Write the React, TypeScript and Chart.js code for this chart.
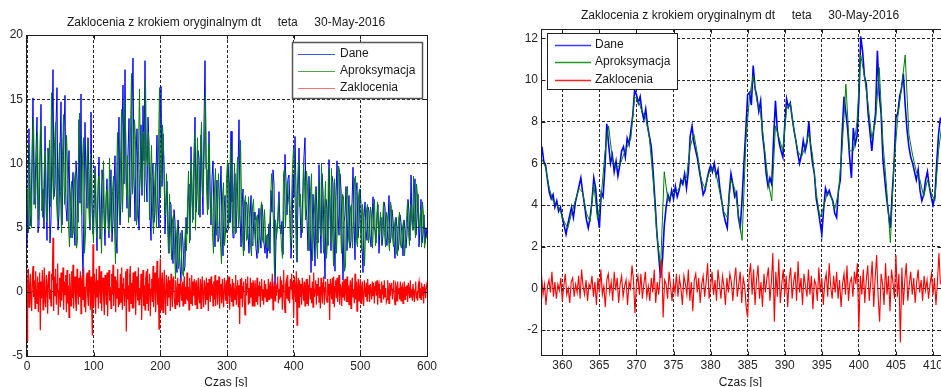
import React, { useEffect, useRef } from 'react';
import { Chart, registerables } from 'chart.js';

Chart.register(...registerables);

const FONT = '"Liberation Sans", Arial, Helvetica, sans-serif';
const TITLE = 'Zaklocenia z krokiem oryginalnym dt     teta     30-May-2016';
const LEGEND_LABELS = ['Dane', 'Aproksymacja', 'Zaklocenia'];
const X_LABEL = 'Czas [s]';
const COLORS = ['#0000ff', '#008000', '#ff0000'];

// ---------- Left plot (whole record 0..600 s) ----------
const L_DANE_T0 = 0;
const L_DANE_DT = 1.5;
const L_DANE = [
  3.5, 8.2, 12.7, 5.1, 6.0, 10.4, 15.1, 6.8, 7.5, 11.0, 13.6, 4.6, 5.2, 9.8, 14.6, 6.3, 8.0, 4.9, 12.9, 7.2,
  4.0, 11.2, 9.5, 3.8, 5.6, 12.1, 17.3, 7.4, 8.2, 13.0, 15.9, 4.8, 6.0, 10.9, 14.8, 5.2, 9.2, 12.4, 15.3, 6.6,
  5.5, 8.1, 11.0, 6.2, 4.2, 7.7, 9.3, 5.0, 3.6, 10.2, 8.8, 5.4, 13.4, 6.9, 15.4, 4.5, 1.2, 7.3, 13.2, 8.5,
  6.5, 12.0, 9.0, 4.8, 14.0, 7.1, 4.5, 6.6, 9.8, 5.7, 3.2, 7.8, 10.5, 4.1, 5.0, 9.5, 8.6, 6.0, 3.6, 7.2,
  8.8, 5.6, 4.2, 7.4, 9.5, 3.9, 5.5, 8.0, 10.6, 4.4, 3.0, 9.8, 13.6, 5.2, 7.0, 12.6, 16.1, 8.4, 17.3, 9.1,
  6.5, 10.8, 13.5, 5.8, 8.0, 14.2, 18.2, 9.0, 5.5, 10.4, 12.7, 6.8, 4.8, 9.6, 13.0, 7.5, 14.5, 10.2, 18.0, 8.8,
  7.0, 13.6, 11.5, 6.0, 4.0, 8.9, 10.0, 5.4, 6.2, 9.4, 12.2, 7.0, 5.0, 11.8, 16.0, 8.2, 12.3, 9.9, 4.5, 6.7,
  8.6, 5.4, 3.0, 7.0, 6.8, 3.6, 2.2, 6.4, 5.5, 2.4, 1.5, 5.6, 4.2, 2.0, 0.8, 4.8, 3.8, 1.6, 2.0, 5.8,
  4.5, 6.9, 8.4, 4.0, 11.3, 7.2, 5.6, 9.6, 13.6, 6.2, 7.5, 11.0, 10.4, 5.8, 12.2, 8.6, 6.0, 13.0, 18.0, 9.6,
  9.5, 6.4, 12.5, 7.8, 5.2, 8.8, 10.2, 5.6, 3.5, 6.8, 8.7, 3.9, 4.2, 7.4, 9.8, 5.0, 2.8, 6.2, 7.5, 4.6,
  5.0, 10.0, 8.5, 5.4, 12.5, 7.0, 4.2, 7.8, 9.2, 4.6, 6.5, 9.4, 13.4, 6.0, 3.5, 6.6, 8.0, 3.2, 5.2, 7.0,
  6.8, 4.6, 3.0, 5.8, 7.5, 3.6, 4.0, 6.2, 5.6, 3.4, 2.6, 5.2, 6.5, 4.2, 3.4, 6.8, 5.8, 3.8, 3.0, 4.4,
  2.6, 3.8, 5.3, 3.0, 7.9, 6.2, 9.5, 8.4, 0.5, 4.0, 4.8, 5.6, 7.8, 5.0, 4.5, 5.5, 2.9, 7.0, 10.7, 8.6,
  6.0, 8.8, 9.1, 6.4, 2.6, 4.5, 9.2, 7.4, 12.1, 8.0, 2.3, 7.5, 11.2, 6.6, 4.2, 5.4, 8.2, 10.6, 12.0, 6.8,
  5.5, 3.2, 9.0, 6.0, 1.5, 4.6, 7.6, 5.0, 2.0, 8.2, 6.2, 3.8, 9.9, 5.6, 3.0, 9.2, 7.8, 4.4, 1.0, 7.2,
  6.5, 3.6, 10.3, 6.8, 3.2, 9.0, 8.5, 4.8, 1.6, 7.4, 10.2, 6.0, 4.4, 9.2, 8.0, 4.6, 0.9, 5.4, 6.0, 8.2,
  3.2, 5.8, 7.5, 3.4, 4.0, 6.8, 9.7, 5.6, 2.5, 7.8, 8.5, 4.2, 5.2, 8.0, 6.8, 3.6, 1.5, 5.8, 7.0, 4.8,
  4.0, 6.6, 6.3, 4.4, 3.5, 5.6, 7.4, 5.0, 4.8, 3.8, 6.0, 6.8, 3.0, 5.2, 5.8, 3.6, 4.4, 7.0, 6.6, 4.2,
  3.6, 5.4, 7.5, 3.8, 4.2, 6.4, 5.6, 4.0, 2.6, 5.8, 5.0, 3.2, 3.8, 6.0, 5.4, 4.4, 2.8, 5.6, 4.9, 3.4,
  4.5, 7.2, 6.2, 4.0, 9.1, 5.6, 4.8, 7.0, 8.8, 4.4, 5.8, 7.6, 3.5, 5.2, 7.2, 3.8, 4.5, 6.0, 3.8, 5.0,
  4.2,
];

const L_APROKS_T0 = 0.75;
const L_APROKS_DT = 1.5;
const L_APROKS = [
  8.0, 4.6, 11.5, 7.0, 5.0, 12.0, 13.5, 8.0, 6.5, 10.0, 12.4, 5.6, 9.0, 13.2, 12.0, 5.8, 7.0, 10.4, 11.0, 5.4,
  6.0, 9.0, 11.8, 6.6, 15.5, 9.4, 7.2, 11.6, 13.2, 7.0, 5.5, 9.2, 11.6, 7.8, 4.6, 10.6, 13.8, 6.8, 8.0, 12.2,
  10.0, 5.2, 3.5, 7.4, 8.6, 4.2, 5.0, 8.8, 9.4, 3.4, 4.0, 11.0, 13.9, 9.0, 6.0, 10.4, 12.0, 3.0, 4.5, 9.2,
  11.6, 7.0, 5.2, 10.8, 8.0, 5.4, 3.8, 8.2, 9.5, 4.2, 6.0, 9.0, 8.8, 5.6, 3.0, 6.4, 10.2, 5.0, 4.8, 8.0,
  7.6, 4.6, 10.4, 6.2, 4.6, 7.8, 9.0, 5.0, 2.2, 8.4, 12.4, 7.6, 5.5, 10.0, 14.2, 6.2, 9.0, 15.0, 13.0, 7.4,
  10.6, 5.4, 7.5, 12.6, 17.0, 7.6, 9.5, 13.4, 11.8, 5.2, 6.0, 11.0, 15.8, 9.2, 8.0, 11.6, 12.5, 7.0, 16.5, 10.4,
  9.8, 12.4, 5.6, 9.0, 11.4, 6.2, 4.5, 8.0, 10.0, 5.0, 7.5, 11.2, 15.9, 7.4, 10.5, 13.0, 11.2, 7.6, 6.0, 9.2,
  5.2, 3.0, 7.6, 4.8, 2.5, 5.6, 6.0, 3.2, 1.0, 4.4, 5.2, 1.8, 2.6, 4.6, 3.0, 1.4, 1.2, 3.6, 5.0, 3.2,
  6.8, 9.4, 3.8, 7.2, 10.2, 5.4, 9.0, 12.4, 4.8, 8.6, 12.0, 6.0, 7.0, 11.0, 13.2, 7.4, 8.5, 11.8, 15.4, 8.2,
  6.0, 11.6, 11.0, 5.6, 7.6, 4.6, 3.0, 8.0, 9.6, 4.4, 5.5, 9.2, 7.0, 3.8, 2.2, 7.4, 8.5, 3.6, 4.5, 8.8,
  10.2, 4.8, 6.6, 11.6, 9.0, 4.6, 7.0, 10.0, 4.5, 8.2, 10.5, 5.0, 6.0, 11.8, 7.2, 4.2, 2.8, 7.0, 7.5, 4.0,
  4.2, 7.4, 6.0, 3.6, 2.8, 6.6, 7.2, 4.8, 3.6, 5.8, 6.0, 3.0, 4.4, 6.2, 7.0, 4.0, 3.8, 6.4, 4.6, 3.4,
  4.5, 3.2, 5.0, 6.8, 9.2, 8.0, 5.2, 1.2, 5.6, 4.4, 5.4, 7.2, 4.9, 5.2, 3.5, 2.6, 9.2, 9.6, 5.0, 7.4,
  8.6, 7.2, 6.6, 3.4, 6.8, 9.6, 11.2, 9.0, 6.0, 2.4, 8.4, 10.2, 6.6, 7.6, 5.4, 4.6, 10.0, 8.6, 5.6, 9.4,
  8.2, 5.0, 3.2, 7.8, 9.2, 2.4, 4.5, 6.6, 8.0, 4.0, 2.6, 8.6, 6.8, 4.4, 10.0, 6.0, 3.0, 6.4, 8.6, 2.6,
  4.0, 9.6, 7.6, 3.8, 9.6, 5.0, 2.0, 8.8, 7.0, 3.0, 5.6, 9.8, 9.5, 5.2, 3.0, 7.6, 7.4, 1.6, 2.0, 7.2,
  8.2, 4.2, 3.6, 6.6, 6.8, 3.4, 5.5, 8.8, 9.0, 4.0, 3.5, 7.4, 8.0, 4.8, 3.2, 6.8, 5.8, 2.0, 4.5, 6.4,
  6.8, 3.8, 4.5, 6.6, 6.0, 3.4, 5.2, 7.2, 3.6, 5.0, 7.0, 4.4, 5.0, 6.2, 3.8, 5.4, 7.0, 4.6, 3.5, 6.2,
  5.8, 4.0, 3.2, 7.0, 6.5, 4.2, 3.5, 5.2, 5.8, 3.0, 2.8, 5.6, 6.2, 3.6, 3.4, 5.0, 5.5, 2.8, 4.0, 5.6,
  7.0, 4.6, 3.6, 6.8, 6.0, 4.8, 9.0, 5.4, 4.2, 8.4, 7.5, 5.2, 5.0, 6.4, 3.5, 7.0, 6.0, 3.4, 4.0, 4.4,
];

const L_ZAKL_T0 = 0;
const L_ZAKL_DT = 1;
const L_ZAKL = [
  -3.8, 0.6, 1.8, -1.2, 0.3, 1.4, -0.7, -1.5, 1.1, 2.0, -0.4, 0.9, -1.3, 1.6, 0.2, -0.9, 1.2, -1.6, 0.7, 1.5,
  -3.0, 0.8, -0.5, 1.7, -1.4, 0.4, 1.9, -0.8, -1.2, 1.3, 0.5, -1.7, 1.0, 1.6, -0.6, 0.2, -1.1, 1.4, 0.9, 4.2,
  -1.5, 1.2, -0.3, 1.8, -1.0, 0.6, 2.2, -1.8, 0.1, 1.1, -1.2, 1.5, -0.7, 0.4, 1.9, -1.4, 0.8, -0.2, 1.3, -1.6,
  1.7, -0.9, 0.5, -2.0, 1.4, 0.3, -1.1, 1.6, -0.5, 2.1, -1.3, 0.7, 1.2, -0.8, -1.5, 1.8, 0.2, -1.0, 1.1, -0.4,
  1.6, -1.7, 0.9, 1.3, -0.6, 1.9, -1.2, 0.4, -1.6, 1.0, 1.5, -0.3, -1.1, 1.7, 0.6, -1.4, 1.2, -0.9, -3.4, 3.7,
  -1.2, 1.4, 0.5, -1.7, 1.8, -0.4, 0.9, -1.3, 2.0, 0.3, -0.9, 1.6, -1.5, 0.7, 1.1, -0.6, -1.8, 1.3, 0.2, -1.0,
  1.5, -1.9, 0.8, 1.7, -0.7, 0.4, -1.3, 1.4, -0.2, 2.1, -1.1, 0.6, 1.2, -1.6, 0.9, -0.5, 1.8, -1.2, 0.3, -1.0,
  1.4, -0.8, 1.9, -1.4, 0.6, 1.1, -1.1, 0.2, 1.6, -3.1, 1.8, -0.6, 0.5, -1.5, 1.3, 2.0, -0.9, 0.7, -1.3, 1.5,
  -1.3, 0.9, 1.6, -1.8, 0.4, 1.2, -0.7, 1.9, -1.0, 0.3, -0.6, 1.4, -2.2, 0.8, 1.7, -1.1, 0.5, -1.4, 1.0, 1.6,
  -0.9, 1.8, -1.5, 0.6, 1.4, -1.9, 0.2, 1.0, -0.8, 2.0, -1.2, 0.7, 1.5, -1.6, 0.4, 2.4, -1.0, 1.1, -2.9, 0.8,
  2.6, -1.4, 0.8, 1.5, -1.6, 0.3, 1.7, -0.6, -1.8, 1.3, 0.5, -1.1, 1.2, -0.4, 0.9, -1.5, 1.4, 0.1, -1.2, 1.0,
  1.2, -0.5, -1.3, 0.9, 0.3, -1.0, 1.1, -0.8, 0.6, -1.2, 1.0, 0.2, -0.7, 0.8, -1.1, 0.5, 1.2, -0.9, 0.4, -0.6,
  1.5, -0.7, 0.4, -1.4, 1.1, 0.2, -0.9, 1.3, -1.1, 0.8, -0.3, 1.0, -1.0, 0.6, 0.9, -1.3, 0.3, 1.1, -0.5, -0.9,
  1.0, -1.3, 0.5, 1.2, -0.4, -1.2, 0.9, 0.3, -1.0, 1.1, -0.6, 0.7, -1.5, 1.0, 0.1, -0.8, 1.2, -0.3, 0.6, -1.1,
  0.8, -0.6, 1.3, -1.1, 0.3, 0.9, -1.0, 0.5, 1.2, -1.3, 0.2, 0.6, -0.9, 1.0, -0.4, -1.2, 1.1, 0.4, -0.7, 0.9,
  -0.9, 1.1, -0.3, 1.2, -1.4, 0.6, 0.2, -0.8, 1.0, -1.1, 0.7, 0.2, -0.6, 1.3, -1.0, 0.4, 0.9, -1.2, 0.5, -2.5,
  1.0, -0.5, 1.1, -1.2, 0.4, 0.8, -0.7, -1.8, 1.0, -0.3, 0.6, 1.2, -1.0, 0.3, -0.9, 1.1, -0.4, 0.7, -1.1, 0.9,
  0.6, -1.1, 0.9, 0.1, -0.8, 1.1, -1.0, 0.5, -0.3, 0.8, -1.2, 0.4, 1.0, -0.7, 0.2, -1.0, 0.9, -0.4, 0.6, -0.8,
  0.2, -0.8, 1.0, -0.6, 0.4, 0.8, -0.5, 0.1, 1.4, -1.4, 0.3, 0.8, -0.7, 0.5, -0.3, 0.6, 1.2, -0.9, 0.2, -0.6,
  1.2, -0.4, 0.9, -1.4, 0.5, 1.7, -0.8, -1.6, 0.6, 0.9, -0.5, 1.3, -0.7, 0.4, -0.9, 1.0, 0.2, 1.4, -0.6, 0.8,
  -2.0, 1.2, 0.3, -0.8, 1.6, -2.6, 0.4, 1.1, -1.2, 0.9, -0.4, 0.6, -1.0, 1.1, 0.2, -0.7, 0.8, -1.1, 0.5, 1.0,
  -0.9, 1.0, -1.1, 0.5, 1.3, -0.6, 0.3, -0.9, 0.8, -1.2, 1.5, -0.4, 0.2, 0.9, -1.0, 0.6, -0.3, 1.1, -0.8, 0.4,
  -1.3, 1.1, 0.2, -0.9, 0.7, 1.2, -1.0, 0.3, 0.8, -0.5, -0.8, 1.0, -0.3, 0.6, -2.2, 1.0, 0.4, -0.6, 1.1, -0.9,
  1.2, -1.2, 0.4, 0.9, -0.5, 1.1, -0.8, 0.3, 1.3, -1.0, 0.6, 0.2, -1.1, 0.8, -0.4, 0.9, -0.7, 1.0, 0.1, -0.8,
  1.2, -0.8, 0.5, -1.0, 0.3, 0.9, -1.3, 0.6, 1.1, -0.4, 0.2, -0.9, 1.4, -0.6, 0.8, -1.5, 0.4, 1.0, -0.7, 0.3,
  1.0, -0.9, 0.3, 0.8, -0.5, -1.1, 0.9, 0.2, -0.4, 0.7, -0.7, 1.0, -0.2, 0.5, -0.8, 0.6, 0.1, -0.6, 0.8, -0.3,
  0.7, -0.9, 0.4, 0.8, -0.3, 0.9, -1.0, 0.3, 0.6, -0.5, 0.2, -0.8, 0.8, -0.2, 0.5, -0.6, 0.9, -0.4, 0.3, -0.8,
  -0.6, 0.9, 0.2, -0.9, 0.7, -0.3, 0.5, 0.7, -0.6, 0.2, 0.9, -0.5, -1.0, 0.6, 0.4, -0.7, 0.8, -0.2, 0.3, -0.6,
  0.8, -0.7, 0.3, 0.5, -0.9, 0.2, 0.8, -0.6, 0.4, -0.3, 0.5, -0.8, 0.7, 0.1, -0.5, 0.9, -0.4, 0.2, -0.7, 0.6,
  0.6, -0.8, 0.2, 0.8, -0.4, -0.2, -0.7, 0.5, 0.8, -0.5, 0.3, -0.6, 0.7, -0.3, 0.4, -0.9, 0.6, 0.2, -0.5, 0.5,
  0.2,
];

// ---------- Right plot (zoom 357..411 s) ----------
const R_DANE_T0 = 357.25;
const R_DANE_DT = 0.25;
const R_DANE = [
  6.8, 6.1, 5.9, 5.2, 4.6, 4.3, 4.5, 3.9, 4.2, 3.7, 3.9, 3.4,
  3.0, 2.6, 3.1, 3.5, 3.9, 3.4, 4.1, 4.5, 4.9, 5.3, 4.6, 4.0,
  3.3, 2.9, 3.4, 4.2, 5.3, 4.8, 3.6, 2.9, 4.6, 4.4, 5.8, 7.9,
  6.9, 6.0, 6.4, 5.6, 6.1, 5.4, 5.9, 6.6, 6.8, 6.3, 7.2, 6.9,
  7.6, 8.3, 9.5, 9.3, 8.9, 9.2, 8.5, 8.1, 8.6, 7.8, 7.3, 6.8,
  5.6, 4.2, 2.7, 1.6, 0.5, 1.3, 3.0, 3.9, 4.5, 4.2, 4.7, 4.3,
  4.9, 4.4, 4.7, 5.2, 5.0, 5.5, 4.8, 5.6, 7.3, 7.8, 7.0, 6.6,
  6.2, 5.6, 5.1, 4.5, 4.7, 5.2, 5.6, 5.9, 5.6, 6.0, 5.4, 5.7,
  4.8, 4.2, 3.6, 3.2, 2.9, 4.5, 5.5, 5.0, 4.4, 4.6, 3.4, 2.9,
  4.3, 6.0, 7.6, 9.3, 9.4, 8.8, 10.7, 9.6, 9.2, 8.5, 9.0, 7.4,
  6.6, 5.5, 4.9, 5.3, 5.0, 7.2, 9.0, 7.6, 7.0, 6.6, 6.3, 7.8,
  9.1, 8.7, 8.9, 8.2, 7.6, 7.1, 6.5, 6.0, 6.4, 7.1, 6.6, 7.0,
  8.0, 6.8, 6.0, 5.5, 4.3, 3.8, 3.2, 2.6, 3.8, 4.8, 4.5, 4.7,
  4.4, 4.2, 3.6, 3.4, 4.7, 5.2, 7.5, 9.2, 8.4, 7.6, 6.3, 5.3,
  7.7, 6.9, 7.3, 9.0, 12.1, 11.4, 10.2, 9.8, 8.4, 7.5, 6.6, 7.6,
  8.4, 11.4, 9.3, 8.4, 6.2, 5.2, 4.3, 3.6, 2.9, 4.6, 6.0, 8.2,
  8.4, 9.2, 9.6, 10.3, 8.8, 7.6, 6.8, 6.3, 6.0, 5.6, 5.2, 5.7,
  4.7, 4.2, 4.5, 5.2, 5.6, 4.9, 4.4, 4.0, 4.4, 6.0, 7.4, 8.2,
];

const R_APROKS_T0 = 357.25;
const R_APROKS_DT = 0.5;
const R_APROKS = [
  6.2, 5.8, 4.8, 4.2, 4.0, 3.7, 3.2, 2.9, 3.6, 4.2,
  4.8, 4.6, 3.6, 3.2, 5.0, 3.3, 4.4, 6.5, 7.8, 6.2,
  5.8, 5.9, 6.4, 6.8, 7.2, 9.2, 9.0, 8.5, 8.2, 7.2,
  5.2, 2.6, 1.0, 5.6, 4.2, 4.5, 4.6, 4.8, 5.2, 5.3,
  6.8, 7.4, 6.4, 5.2, 4.8, 5.5, 5.8, 5.5, 4.6, 3.7,
  3.4, 5.2, 4.8, 3.6, 2.3, 7.0, 9.2, 10.2, 9.0, 8.4,
  6.8, 5.2, 4.2, 7.8, 7.2, 6.6, 8.6, 8.9, 7.6, 6.6,
  6.3, 6.8, 7.4, 6.4, 4.6, 3.4, 3.9, 4.6, 4.4, 3.8,
  4.6, 6.8, 9.8, 6.6, 6.6, 8.0, 11.2, 10.2, 8.8, 7.2,
  8.0, 10.6, 7.0, 4.8, 2.2, 6.0, 8.2, 9.6, 11.2, 7.4,
  6.4, 5.6, 5.2, 4.4, 5.2, 4.6, 4.2, 6.6, 8.0,
];

const R_ZAKL_T0 = 357.2;
const R_ZAKL_DT = 0.2;
const R_ZAKL = [
  0.6, -0.3, 0.2, -0.8, 0.1, 0.4, -0.2, 0.8, -0.4, 0.3,
  -0.5, 0.2, -0.1, 0.5, -0.6, 0.1, 0.7, -0.3, 0.0, -0.7,
  0.3, 0.5, -0.4, 0.2, -0.2, 0.6, -0.5, 0.9, 0.1, -0.3,
  0.4, -0.6, 0.2, 0.0, 0.6, -0.4, 0.3, -0.8, 0.5, -0.2,
  0.9, -0.3, 0.1, -0.9, 0.4, 0.7, -0.2, 0.3, -0.6, 0.8,
  -0.1, 0.5, -0.7, 0.2, 0.6, -0.4, 0.1, 0.4, -0.8, 0.3,
  0.0, 1.1, 0.4, -1.2, 0.2, 0.6, -0.3, 0.7, -0.5, 0.2,
  0.8, -0.4, 0.1, -0.6, 0.5, -0.2, 0.9, -0.7, 0.3, -0.3,
  0.6, 1.4, -1.4, 0.4, 0.2, -0.5, 0.8, 0.1, -0.6, 0.3,
  -0.2, 0.7, -0.4, 0.5, 0.0, -0.8, 0.6, 0.2, -0.3, 0.9,
  -0.6, 0.3, -1.1, 0.4, 0.7, -0.2, 0.5, -0.7, 0.2, 0.6,
  -0.4, 0.3, 1.2, -0.5, 0.1, 0.8, -0.3, 0.4, -0.6, 0.9,
  0.2, -0.5, 0.6, 0.1, -0.8, 0.5, -0.2, 0.7, 0.3, -0.6,
  0.4, 1.0, -0.4, 0.2, 0.8, -0.7, 0.5, 0.1, -0.9, -1.4,
  0.6, 1.2, -0.3, 0.9, -0.8, 0.4, 1.1, -0.5, 0.3, -0.9,
  0.7, -0.2, 0.5, 1.0, -0.6, 0.3, 1.7, -1.6, 0.8, -0.4,
  1.4, -0.7, 0.2, 0.9, -0.3, 0.6, -0.9, 0.4, 1.0, -0.5,
  0.3, 0.8, -0.6, 1.3, -0.2, 0.5, -0.8, 0.7, 0.1, -0.4,
  0.9, -0.3, 0.6, -1.0, 0.4, 0.2, -0.6, 1.0, -0.2, 0.5,
  -0.8, 0.3, 0.7, -0.4, 1.2, 0.1, -0.5, 0.6, -0.2, 0.8,
  -0.5, 0.4, -0.9, 0.2, 0.7, -0.3, 1.1, -0.6, 0.3, 0.5,
  -0.4, 0.8, 0.2, 1.2, -2.0, 0.6, -0.3, 0.9, -0.7, 0.4,
  1.1, -0.6, 0.3, 1.3, -0.9, 0.5, 1.6, -0.4, -1.6, 0.7,
  0.2, -0.8, 1.2, -0.3, 0.6, -1.1, 0.9, 0.3, -0.5, 1.6,
  -0.4, 0.7, -2.6, 1.0, -0.8, 0.4, 1.2, -0.6, 0.2, 0.8,
  -0.3, 0.5, -0.7, 0.3, 0.9, -0.2, 0.4, -0.6, 0.6, -0.1,
  0.4, -0.5, 0.2, 0.7, -0.3, 0.5, -0.8, 0.3, 1.7, 0.2,
];

function pts(t0: number, dt: number, values: number[]) {
  return values.map((v, i) => ({ x: t0 + i * dt, y: v }));
}

type Legend = {
  x: number; y: number; w: number; h: number;
  lineX1: number; lineX2: number; textX: number;
  rows: number[]; colors: string[]; lineWidth: number; border: string; borderWidth: number;
};
type Deco = {
  titleX: number; titleY: number; xlabelX: number; xlabelY: number; legend: Legend;
};

function decoPlugin(d: Deco) {
  return {
    id: 'deco',
    afterDraw(chart: any) {
      const ctx = chart.ctx as CanvasRenderingContext2D;
      const a = chart.chartArea;
      const L = Math.round(a.left) - 0.5;
      const R = Math.round(a.right) + 0.5;
      const T = Math.round(a.top) + 0.5;
      const B = Math.round(a.bottom) + 0.5;
      ctx.save();
      ctx.setLineDash([]);
      ctx.strokeStyle = '#1e1e1e';
      ctx.lineWidth = 1;
      ctx.strokeRect(L, T, R - L, B - T);
      const xs = chart.scales.x;
      const ys = chart.scales.y;
      ctx.beginPath();
      for (const t of xs.ticks) {
        const px = Math.round(xs.getPixelForValue(t.value)) + 0.5;
        ctx.moveTo(px, B); ctx.lineTo(px, B - 4);
        ctx.moveTo(px, T); ctx.lineTo(px, T + 4);
      }
      for (const t of ys.ticks) {
        const py = Math.round(ys.getPixelForValue(t.value)) + 0.5;
        ctx.moveTo(L, py); ctx.lineTo(L + 4, py);
        ctx.moveTo(R, py); ctx.lineTo(R - 4, py);
      }
      ctx.stroke();

      // legend
      const lg = d.legend;
      ctx.fillStyle = '#ffffff';
      ctx.fillRect(lg.x, lg.y, lg.w, lg.h);
      ctx.strokeStyle = lg.border;
      ctx.lineWidth = lg.borderWidth;
      ctx.strokeRect(lg.x + 0.5, lg.y + 0.5, lg.w, lg.h);
      ctx.font = `12px ${FONT}`;
      ctx.textAlign = 'left';
      ctx.textBaseline = 'middle';
      lg.rows.forEach((ry, i) => {
        ctx.strokeStyle = lg.colors[i];
        ctx.lineWidth = lg.lineWidth;
        ctx.beginPath();
        ctx.moveTo(lg.lineX1, Math.round(ry) + 0.5);
        ctx.lineTo(lg.lineX2, Math.round(ry) + 0.5);
        ctx.stroke();
        ctx.fillStyle = '#1a1a1a';
        ctx.fillText(LEGEND_LABELS[i], lg.textX, ry);
      });

      // title and x label
      ctx.fillStyle = '#1a1a1a';
      ctx.textAlign = 'center';
      ctx.textBaseline = 'alphabetic';
      ctx.fillText(TITLE, d.titleX, d.titleY);
      ctx.fillText(X_LABEL, d.xlabelX, d.xlabelY);
      ctx.restore();
    },
  };
}

type PlotSpec = {
  dane: { x: number; y: number }[];
  aproks: { x: number; y: number }[];
  zakl: { x: number; y: number }[];
  widths: number[];
  xMin: number; xMax: number; xStep: number;
  yMin: number; yMax: number; yStep: number;
  padding: { left: number; right: number; top: number; bottom: number };
  yWidth: number; xHeight: number;
  deco: Deco;
};

function buildConfig(p: PlotSpec): any {
  const tickFont = { family: FONT, size: 12 };
  const ds = (label: string, data: any[], color: string, width: number, order: number) => ({
    label, data, borderColor: color, backgroundColor: color,
    borderWidth: width, pointRadius: 0, fill: false, tension: 0, order,
  });
  return {
    type: 'line',
    data: {
      datasets: [
        ds(LEGEND_LABELS[0], p.dane, COLORS[0], p.widths[0], 3),
        ds(LEGEND_LABELS[1], p.aproks, COLORS[1], p.widths[1], 2),
        ds(LEGEND_LABELS[2], p.zakl, COLORS[2], p.widths[2], 1),
      ],
    },
    options: {
      animation: false,
      responsive: false,
      maintainAspectRatio: false,
      devicePixelRatio: 1,
      events: [],
      layout: { padding: p.padding },
      plugins: { legend: { display: false }, tooltip: { enabled: false }, title: { display: false } },
      scales: {
        x: {
          type: 'linear', min: p.xMin, max: p.xMax,
          ticks: { stepSize: p.xStep, includeBounds: false, autoSkip: false, maxRotation: 0, minRotation: 0, padding: 3, color: '#262626', font: tickFont },
          grid: { color: '#2a2a2a', lineWidth: 1, drawTicks: false, tickLength: 0 },
          border: { display: false, dash: [3, 2] },
          afterFit: (s: any) => { s.height = p.xHeight; },
        },
        y: {
          type: 'linear', min: p.yMin, max: p.yMax,
          ticks: { stepSize: p.yStep, includeBounds: false, autoSkip: false, padding: 4, color: '#262626', font: tickFont },
          grid: { color: '#2a2a2a', lineWidth: 1, drawTicks: false, tickLength: 0 },
          border: { display: false, dash: [3, 2] },
          afterFit: (s: any) => { s.width = p.yWidth; },
        },
      },
    },
    plugins: [decoPlugin(p.deco)],
  };
}

function Plot({ left, width, spec }: { left: number; width: number; spec: PlotSpec }) {
  const ref = useRef<HTMLCanvasElement>(null);
  useEffect(() => {
    if (!ref.current) return;
    const chart = new Chart(ref.current, buildConfig(spec));
    return () => chart.destroy();
  }, []);
  return (
    <canvas
      ref={ref}
      width={width}
      height={387}
      style={{ position: 'absolute', left, top: 0, width, height: 387 }}
    />
  );
}

const LEFT_SPEC: PlotSpec = {
  dane: pts(L_DANE_T0, L_DANE_DT, L_DANE),
  aproks: pts(L_APROKS_T0, L_APROKS_DT, L_APROKS),
  zakl: pts(L_ZAKL_T0, L_ZAKL_DT, L_ZAKL),
  widths: [1, 1, 1.2],
  xMin: 0, xMax: 600, xStep: 100,
  yMin: -5, yMax: 20, yStep: 5,
  padding: { left: 0, right: 43, top: 35, bottom: 0 },
  yWidth: 27, xHeight: 31,
  deco: {
    titleX: 226, titleY: 25.5, xlabelX: 226, xlabelY: 386,
    legend: {
      x: 292, y: 42, w: 130, h: 56, lineX1: 298, lineX2: 335, textX: 340,
      rows: [53.5, 71, 88], colors: ['#3355ff', '#4fa84f', '#ff7070'], lineWidth: 1,
      border: '#555555', borderWidth: 1.5,
    },
  },
};

const RIGHT_SPEC: PlotSpec = {
  dane: pts(R_DANE_T0, R_DANE_DT, R_DANE),
  aproks: pts(R_APROKS_T0, R_APROKS_DT, R_APROKS),
  zakl: pts(R_ZAKL_T0, R_ZAKL_DT, R_ZAKL),
  widths: [1.6, 1, 1.1],
  xMin: 357.26, xMax: 411.08, xStep: 5,
  yMin: -3.2, yMax: 12.45, yStep: 2,
  padding: { left: 0, right: 39, top: 29, bottom: 0 },
  yWidth: 72, xHeight: 32,
  deco: {
    titleX: 270, titleY: 19, xlabelX: 270.5, xlabelY: 386,
    legend: {
      x: 77, y: 33, w: 130, h: 56, lineX1: 85, lineX2: 121, textX: 125,
      rows: [44.5, 62, 79.5], colors: ['#3a3aff', '#229922', '#ff2020'], lineWidth: 1.6,
      border: '#222222', borderWidth: 1,
    },
  },
};

export default function App() {
  return (
    <div style={{ position: 'absolute', left: 0, top: 0, width: 941, height: 387, background: '#ffffff', overflow: 'hidden' }}>
      <Plot left={0} width={470} spec={LEFT_SPEC} />
      <Plot left={470} width={510} spec={RIGHT_SPEC} />
    </div>
  );
}
